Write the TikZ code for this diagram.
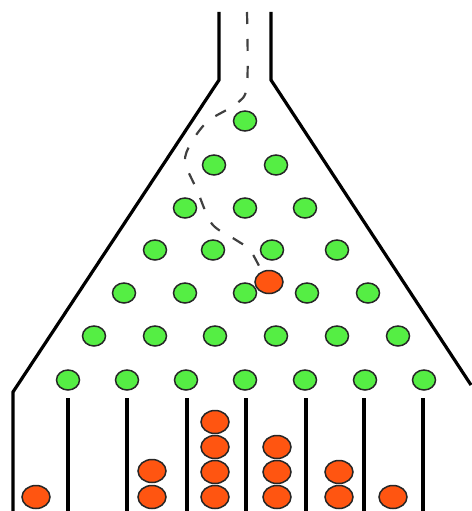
\documentclass[tikz,border=0pt]{standalone}
\usetikzlibrary{shapes.geometric}
\definecolor{peggreen}{HTML}{55EE44}
\definecolor{ballred}{HTML}{FF5511}
\tikzset{
  peg/.style={ellipse,draw=black!85,line width=1.5pt,fill=peggreen,minimum width=23pt,minimum height=20pt,inner sep=0pt},
  ball/.style={ellipse,draw=black!85,line width=1.5pt,fill=ballred,minimum width=28pt,minimum height=23pt,inner sep=0pt},
  wall/.style={line width=3.2pt,black},
  divider/.style={line width=4pt,black},
  track/.style={line width=2.2pt,black!75,dash pattern=on 12pt off 15pt}
}
\begin{document}
\begin{tikzpicture}[x=1pt,y=-1pt]
\useasboundingbox (0,0) rectangle (471,511);
% funnel
\coordinate (lt) at (219,12);
\coordinate (lb) at (219,80);
\coordinate (lf) at (13,392);
\coordinate (le) at (13,511);
\coordinate (rt) at (271,12);
\coordinate (rb) at (271,80);
\coordinate (rf) at (471,385);
\draw[wall,line join=miter] (lt) -- (lb) -- (lf) -- (le);
\draw[wall,line join=miter] (rt) -- (rb) -- (rf);
% dividers
\foreach \x [count=\i] in {68,127,187,246,306,364,423}
  \draw[divider] (\x,398) -- (\x,511);
% track of the ball
\draw[track] plot[smooth,tension=0.5] coordinates {(247,12) (247,86) (236,104) (208,121) (191,143) (185,162) (197,190) (212,224) (236,240) (250,250) (262,272)};
% pegs
\node[peg] (p1) at (245,121) {};
\foreach \x [count=\i] in {214,276} \node[peg] (p2\i) at (\x,165) {};
\foreach \x [count=\i] in {185,245,305} \node[peg] (p3\i) at (\x,208) {};
\foreach \x [count=\i] in {155,213,272,337} \node[peg] (p4\i) at (\x,250) {};
\foreach \x [count=\i] in {124,185,245,307,368} \node[peg] (p5\i) at (\x,293) {};
\foreach \x [count=\i] in {94,155,215,276,337,398} \node[peg] (p6\i) at (\x,336) {};
\foreach \x [count=\i] in {68,127,186,245,305,365,424} \node[peg] (p7\i) at (\x,380) {};
% falling ball
\node[ball] (fb) at (269,282) {};
% collected balls
\node[ball] (b11) at (36,497) {};
\node[ball] (b31) at (152,497) {};
\node[ball] (b32) at (152,471) {};
\node[ball] (b41) at (215,497) {};
\node[ball] (b42) at (215,472) {};
\node[ball] (b43) at (215,447) {};
\node[ball] (b44) at (215,422) {};
\node[ball] (b51) at (277,497) {};
\node[ball] (b52) at (277,472) {};
\node[ball] (b53) at (277,447) {};
\node[ball] (b61) at (339,497) {};
\node[ball] (b62) at (339,472) {};
\node[ball] (b71) at (393,497) {};
\end{tikzpicture}
\end{document}
